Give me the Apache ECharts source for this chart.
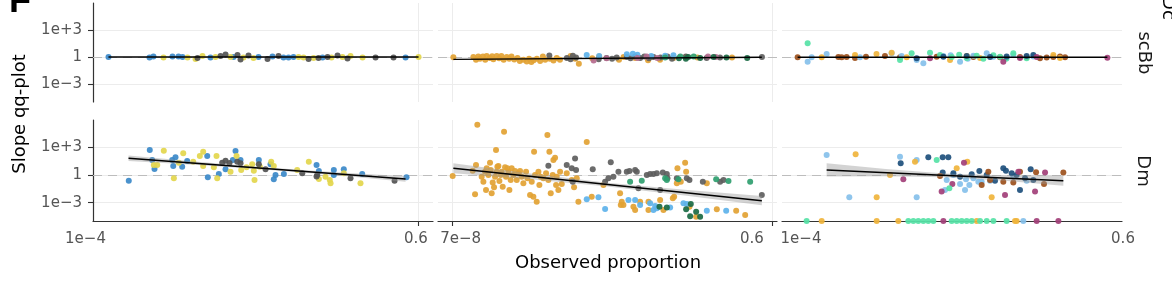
<!DOCTYPE html>
<html><head><meta charset="utf-8">
<script src="https://cdn.jsdelivr.net/npm/echarts@6/dist/echarts.min.js"></script>
<style>html,body{margin:0;padding:0;background:#fff;}#c{width:1172px;height:302px;}</style>
</head><body><div id="c"></div>
<script>
// All values are [log10(observed proportion), log10(slope of qq-plot)]
// ---------- Column 1, row scBb ----------
const c1_scBb_blue = [[-3.82,0],[-3.343,-0.06],[-3.297,0.06],[-3.076,0.06],[-3.006,0.06],[-2.959,0],[-2.634,-0.06],[-2.366,0],[-2.076,0],[-1.913,0.06],[-1.785,-0.06],[-1.727,-0.06],[-1.669,0],[-1.331,-0.06],[-0.366,-0.06]];
const c1_scBb_yellow = [[-3.18,-0.06],[-2.901,-0.06],[-2.808,-0.22],[-2.727,0.11],[-2.576,0],[-2.401,0],[-2.25,-0.06],[-2.134,-0.11],[-1.61,0],[-1.552,-0.06],[-1.436,-0.11],[-1.227,-0.06],[-1.099,0],[-1.006,0.11],[-0.866,-0.06],[-0.215,0]];
const c1_scBb_gray = [[-2.785,-0.11],[-2.517,0.11],[-2.459,0.28],[-2.32,0.22],[-2.285,-0.28],[-2.192,0.17],[-1.971,-0.22],[-1.843,0.11],[-1.494,-0.22],[-1.378,-0.11],[-1.273,0],[-1.157,0.17],[-1.041,-0.17],[-0.715,-0.06],[-0.506,-0.06]];
const c1_scBb_fit = [[-3.82,0],[-0.215,0]];
// ---------- Column 1, row Dm ----------
const c1_Dm_blue = [[-3.584,-0.61],[-3.34,2.73],[-3.312,1.64],[-3.285,0.66],[-3.079,1.64],[-3.067,0.99],[-3.041,1.94],[-2.963,0.92],[-2.905,1.54],[-2.672,2.08],[-2.665,-0.24],[-2.537,0.12],[-2.459,0.63],[-2.374,1.64],[-2.343,2.63],[-2.285,1.64],[-2.072,1.64],[-1.936,1.18],[-1.878,0.01],[-1.898,-0.46],[-1.781,0.12],[-1.401,1.1],[-1.374,0.45],[-1.2,0.56],[-1.2,0.01],[-1.084,0.63],[-0.87,0.12],[-0.355,-0.24]];
const c1_Dm_yellow = [[-3.293,1.1],[-3.253,1.1],[-3.177,2.66],[-3.06,-0.35],[-3.002,1.35],[-2.951,2.37],[-2.835,1.46],[-2.758,2.08],[-2.719,2.55],[-2.719,0.99],[-2.595,0.85],[-2.564,2.08],[-2.556,-0.35],[-2.401,0.37],[-2.331,2.08],[-2.277,0.56],[-2.215,0.85],[-2.149,1.18],[-2.13,0.48],[-2.122,-0.53],[-2.06,0.92],[-1.928,1.46],[-1.898,0.99],[-1.626,0.56],[-1.491,1.46],[-1.374,-0.42],[-1.297,-0.17],[-1.247,-0.53],[-1.238,-0.89],[-1.084,0.2],[-0.89,-0.89]];
const c1_Dm_gray = [[-2.498,1.35],[-2.459,1.57],[-2.413,1.32],[-2.323,1.46],[-2.285,1.29],[-2.072,1.18],[-1.994,0.63],[-1.567,0.2],[-1.393,0.01],[-1.401,-0.15],[-1.006,-0.35],[-0.494,-0.61]];
const c1_Dm_fit = [[-3.587,1.83],[-0.366,-0.42]];
const c1_Dm_band = [[-3.587,1.53,2.13],[-2.782,1.1,1.44],[-1.977,0.585,0.825],[-1.171,-0.028,0.312],[-0.366,-0.72,-0.12]];
// ---------- Column 2, row scBb ----------
const c2_scBb_orange = [[-7.141,-0.04],[-6.707,0],[-6.65,-0.3],[-6.6,0.05],[-6.563,-0.2],[-6.5,0.05],[-6.45,-0.3],[-6.418,0.1],[-6.35,-0.1],[-6.3,0.08],[-6.273,-0.25],[-6.2,0.1],[-6.15,-0.15],[-6.1,0.12],[-6.05,-0.3],[-5.984,0],[-5.93,-0.2],[-5.88,0.05],[-5.82,-0.28],[-5.75,-0.1],[-5.7,-0.45],[-5.62,-0.3],[-5.55,-0.5],[-5.5,-0.2],[-5.45,-0.55],[-5.4,-0.35],[-5.33,-0.2],[-5.26,-0.45],[-5.2,0.05],[-5.15,-0.3],[-5.05,-0.2],[-4.97,-0.4],[-4.9,-0.1],[-4.83,-0.3],[-4.6,0.1],[-4.5,-0.2],[-4.42,-0.75],[-4.13,-0.15],[-3.98,0.05],[-3.55,-0.3],[-3.45,0],[-3.2,-0.1],[-2.92,-0.35],[-2.85,0],[-2.66,-0.3],[-2.37,-0.1],[-2.1,0],[-1.85,-0.05],[-1.1,-0.05]];
const c2_scBb_gray = [[-5.06,0.18],[-4.68,-0.1],[-4.6,-0.25],[-4.55,0.15],[-4.48,-0.05],[-3.99,-0.25],[-3.82,-0.1],[-3.7,-0.2],[-3.6,-0.05],[-3.38,0],[-3.3,-0.15],[-3.2,0.05],[-3.09,-0.1],[-3,0.05],[-2.9,-0.15],[-2.8,0],[-2.65,-0.05],[-2.5,0.05],[-2.4,-0.2],[-2.1,0.05],[-1.65,-0.1],[-1.36,-0.05],[-0.45,0]];
const c2_scBb_sky = [[-4.25,0.22],[-3.98,0.12],[-3.38,0.3],[-3.25,0.35],[-3.15,0.25],[-2.85,0.1],[-2.55,0.15],[-2.37,0.2]];
const c2_scBb_mauve = [[-4.1,-0.4],[-3.82,-0.15],[-3.15,-0.1],[-2.95,0.05],[-2.72,-0.1],[-1.62,0.05],[-1.45,0]];
const c2_scBb_darkgreen = [[-2.25,-0.15],[-2.1,-0.2],[-2.05,0],[-1.79,-0.1],[-1.5,0],[-1.22,-0.05],[-0.77,-0.1]];
const c2_scBb_green = [[-2.55,-0.05],[-2.22,0.05],[-1.93,0.05]];
const c2_scBb_fit = [[-7.141,-0.26],[-0.453,-0.03]];
// ---------- Column 2, row Dm ----------
const c2_Dm_orange = [[-7.156,-0.1],[-6.722,0.48],[-6.65,1.1],[-6.621,5.49],[-6.671,-2.1],[-6.527,-0.17],[-6.49,-0.72],[-6.454,0.37],[-6.433,-1.62],[-6.418,0.74],[-6.382,0.01],[-6.346,1.35],[-6.331,0.56],[-6.31,-1.99],[-6.288,-0.82],[-6.259,-1.33],[-6.237,-0.17],[-6.216,2.73],[-6.201,0.37],[-6.187,0.92],[-6.165,0.99],[-6.143,-0.64],[-6.114,0.01],[-6.093,0.37],[-6.071,-1.26],[-6.042,4.73],[-6.02,0.85],[-5.999,-0.17],[-5.97,0.74],[-5.948,0.37],[-5.926,-1.62],[-5.898,-0.53],[-5.876,0.74],[-5.84,0.01],[-5.803,0.45],[-5.767,-0.53],[-5.731,0.19],[-5.695,0.45],[-5.659,-0.17],[-5.623,-0.9],[-5.565,0.37],[-5.536,-0.35],[-5.478,-2.17],[-5.442,-0.72],[-5.406,-2.35],[-5.391,2.55],[-5.37,0.01],[-5.334,-2.9],[-5.297,0.37],[-5.276,-1.08],[-5.247,-0.17],[-5.189,-0.35],[-5.131,0.19],[-5.102,4.37],[-5.081,-0.53],[-5.059,2.55],[-5.03,-1.99],[-4.987,0.01],[-4.972,1.64],[-4.936,1.9],[-4.914,-1.08],[-4.9,-0.17],[-4.864,-1.62],[-4.827,0.37],[-4.791,-0.97],[-4.683,0.19],[-4.574,-0.53],[-4.524,-1.33],[-4.466,-0.35],[-4.43,-2.9],[-4.249,3.6],[-4.141,-2.35],[-3.887,-1.08],[-3.526,-1.99],[-3.511,-3.26],[-3.49,-2.9],[-3.454,-3.26],[-3.237,-3.44],[-3.2,-3.81],[-3.092,-2.9],[-2.911,-2.9],[-2.911,-3.81],[-2.658,-2.72],[-2.586,-3.81],[-2.383,-2.53],[-2.354,-2.35],[-2.282,0.74],[-2.21,-0.72],[-2.116,1.35],[-2.094,0.37],[-2.022,-3.44],[-1.877,-4.53],[-1.646,-0.9],[-1.429,-3.73],[-1.009,-3.88],[-0.814,-4.35],[-2.296,-0.9]];
const c2_Dm_gray = [[-5.081,1.03],[-4.683,1.1],[-4.574,0.74],[-4.502,1.82],[-4.48,0.56],[-4.553,-0.72],[-4.119,0.63],[-3.851,-0.72],[-3.728,1.39],[-3.779,-0.35],[-3.671,-0.17],[-3.562,0.37],[-3.381,0.37],[-3.323,0.45],[-3.2,0.56],[-3.128,-1.44],[-3.164,0.37],[-2.947,0.01],[-2.875,0.12],[-2.803,0.12],[-2.73,0.19],[-2.658,-1.62],[-2.6,0.27],[-2.513,0.12],[-2.499,-0.35],[-2.296,-0.35],[-2.08,-0.35],[-2.022,-0.53],[-1.732,-0.72],[-1.357,-0.72],[-1.284,-0.53],[-0.453,-2.17]];
const c2_Dm_sky = [[-4.249,-2.64],[-3.996,-2.42],[-3.851,-3.7],[-3.345,-2.72],[-3.2,-2.72],[-3.092,-3.26],[-2.875,-3.08],[-2.803,-3.81],[-2.73,-3.62],[-2.441,-3.52],[-2.152,-3.08],[-2.08,-3.15],[-1.646,-3.88],[-1.226,-3.88],[-2.766,-3.37]];
const c2_Dm_green = [[-3.309,-0.72],[-3.056,-0.61],[-2.549,-0.35],[-2.26,-0.46],[-1.443,-0.46],[-1.176,-0.64],[-0.706,-0.72],[-2.513,-0.53]];
const c2_Dm_darkgreen = [[-2.672,-3.44],[-2.513,-3.52],[-2.094,-3.73],[-1.993,-3.15],[-2.007,-4.47],[-1.791,-4.53],[-1.877,-3.99]];
const c2_Dm_fit = [[-7.141,0.74],[-0.453,-2.79]];
const c2_Dm_band = [[-7.141,0.19,1.29],[-5.469,-0.44,0.16],[-3.797,-1.23,-0.83],[-2.125,-2.21,-1.61],[-0.453,-3.29,-2.29]];
// ---------- Column 3, row scBb ----------
const c3_scBb_brown = [[-4.039,-0.04],[-3.563,0],[-3.524,-0.04],[-3.466,0],[-3.368,-0.1],[-3.24,0.04],[-3.018,0.11],[-2.842,-0.04],[-2.413,0.04],[-1.984,0],[-1.672,-0.04],[-1.439,0],[-1.361,-0.04],[-1.205,-0.15],[-1.127,-0.05],[-1.049,0],[-0.971,0.05],[-0.912,-0.04]];
const c3_scBb_lightblue = [[-3.922,-0.52],[-3.875,-0.04],[-3.7,0.33],[-3.31,-0.04],[-2.94,0.41],[-2.823,0.11],[-2.647,-0.33],[-2.569,-0.7],[-2.335,0.1],[-2.14,-0.52],[-1.984,0.15],[-1.828,0.41],[-1.75,0.04],[-1.595,-0.1],[-1.517,0.22],[-1.283,0.05],[-2.25,0.2],[-2.05,-0.2]];
const c3_scBb_gold = [[-3.758,-0.04],[-3.368,0.22],[-3.117,0.33],[-2.94,0.48],[-2.764,-0.04],[-2.257,-0.33],[-2.062,0.1],[-1.906,-0.1],[-1.049,0.22],[-0.971,-0.1]];
const c3_scBb_mint = [[-3.922,1.52],[-2.842,-0.33],[-2.706,0.41],[-2.491,0.48],[-2.374,0.22],[-2.237,0],[-2.062,-0.1],[-1.945,0.15],[-1.867,-0.2],[-1.75,0.2],[-1.672,0.04],[-1.517,0.41],[-1.361,-0.15],[-2.15,0.25],[-1.6,-0.2]];
const c3_scBb_navy = [[-2.647,-0.15],[-2.335,0.04],[-2.062,0.11],[-1.789,0],[-1.595,0.05],[-1.361,0.1],[-1.283,0.22]];
const c3_scBb_magenta = [[-2.491,-0.15],[-1.634,-0.52],[-1.439,-0.1],[-1.244,0],[-0.417,-0.08]];
const c3_scBb_fit = [[-4.039,-0.02],[-0.417,-0.02]];
// ---------- Column 3, row Dm ----------
const c3_Dm_lightblue = [[-3.7,2.19],[-3.435,-2.42],[-2.842,2],[-2.647,1.64],[-2.647,-2.42],[-2.316,-1.62],[-2.296,-0.53],[-2.14,-0.97],[-2.082,-1.62],[-2.031,-1.08],[-2.07,-0.46],[-1.984,-0.35],[-1.926,-0.72],[-1.887,-0.72],[-1.789,-0.61],[-1.517,-0.17],[-1.361,-0.61],[-2.218,0.01],[-1.4,-5]];
const c3_Dm_gold = [[-3.361,2.26],[-3.115,-2.42],[-2.959,0.01],[-2.667,1.46],[-2.179,0.74],[-2.055,1.46],[-1.77,-2.42],[-3.758,-5],[-3.115,-5],[-2.862,-5],[-1.945,-5],[-1.497,-5],[-1.478,-5]];
const c3_Dm_navy = [[-2.834,1.28],[-2.511,1.93],[-2.343,1.93],[-2.277,1.93],[-2.343,0.27],[-2.218,0.19],[-2.004,0.08],[-1.914,0.45],[-1.828,0.01],[-1.731,-0.61],[-1.634,0.74],[-1.603,0.48],[-1.536,0.19],[-1.478,0.01],[-1.439,-1.62],[-1.38,-0.35],[-1.314,0.63],[-1.283,-0.53],[-2.14,-0.17]];
const c3_Dm_brown = [[-2.374,-0.1],[-1.887,-1.08],[-1.809,0.37],[-1.789,-0.53],[-1.634,-0.72],[-1.517,-0.82],[-1.439,0.37],[-1.251,0.3],[-1.158,-0.97],[-0.932,0.27]];
const c3_Dm_magenta = [[-2.803,-0.46],[-2.355,-1.8],[-2.23,-0.97],[-2.094,1.35],[-1.614,-2.17],[-1.458,0.37],[-1.263,-1.8],[-1.146,0.27],[-2.335,-5],[-1.244,-5],[-0.99,-5]];
const c3_Dm_mint = [[-2.413,1.64],[-2.265,-1.44],[-3.934,-5],[-2.745,-5],[-2.686,-5],[-2.628,-5],[-2.569,-5],[-2.511,-5],[-2.452,-5],[-2.238,-5],[-2.179,-5],[-2.121,-5],[-2.062,-5],[-2.004,-5],[-1.906,-5],[-1.828,-5],[-1.75,-5],[-1.595,-5]];
const c3_Dm_fit = [[-3.7,0.56],[-0.932,-0.61]];
const c3_Dm_band = [[-3.7,-0.16,1.28],[-3.008,-0.13,0.67],[-2.316,-0.23,0.18],[-1.624,-0.62,-0.02],[-0.932,-1.17,-0.05]];

// ---------- axes / labels ----------
const rowLabels = ['scBb', 'Dm'];
const xTickProps = [[1e-4, 0.6], [7e-8, 0.6], [1e-4, 0.6]];
const xTickLabels = [['1e\u22124', '0.6'], ['7e\u22128', '0.6'], ['1e\u22124', '0.6']];
const yTickSlopes = [1e-3, 1, 1e3];
const yTickLabels = ['1e\u22123', '1', '1e+3'];

// ---------- layout / style ----------
const FONT = 'DejaVu Sans';
const colBox = [{left: 93, width: 340}, {left: 438, width: 339}, {left: 782, width: 340}];
const rowBox = [{top: 3, height: 99}, {top: 120, height: 101}];
const xDomain = [[-4, -0.047], [-7.474, -0.124], [-4.222, -0.246]];
const yDomain = [-5, 6];
const xTickDrawn = [[false, true], [true, true], [false, false]];
const xLabelShift = [[-7.5, -2], [8, -20.5], [0, 1]];
const C = {blue:'#3b89c9', yellow:'#e3d64c', gray:'#535353', orange:'#e2a233', gray2:'#5e5e5e', sky:'#5db2ea', green:'#2f9e6f', darkgreen:'#1a6a44', mauve:'#b56b8f', lightblue:'#85c0ea', gold:'#f0b43c', navy:'#1d4f7c', brown:'#9c501c', magenta:'#a23f78', mint:'#56e2a6'};

const grids = [], xAxes = [], yAxes = [], series = [];
const yTickVals = yTickSlopes.map(v => Math.log10(v));
for (let r = 0; r < 2; r++) for (let c = 0; c < 3; c++) {
  const gi = r * 3 + c;
  grids.push({left: colBox[c].left, width: colBox[c].width, top: rowBox[r].top, height: rowBox[r].height, containLabel: false, outerBoundsMode: 'none'});
  const [mn, mx] = xDomain[c];
  const lv = xTickProps[c].map(p => Math.max(mn, Math.min(mx, Math.log10(p))));
  const tv = xTickProps[c].map(p => Math.log10(p)).filter((v, i) => xTickDrawn[c][i]);
  const rich = {};
  xLabelShift[c].forEach((d, i) => {
    rich['l' + i] = {fontFamily: FONT, fontSize: 15, color: '#555', padding: d >= 0 ? [0, 0, 0, 2 * d] : [0, -2 * d, 0, 0]};
  });
  xAxes.push({
    type: 'value', gridIndex: gi, min: mn, max: mx,
    axisLine: {show: r === 1, onZero: false, lineStyle: {color: '#333', width: 1.2}},
    axisTick: {show: r === 1, customValues: tv, length: 5, lineStyle: {color: '#333', width: 1.1}},
    axisLabel: {show: r === 1, customValues: lv, margin: 11, fontFamily: FONT, fontSize: 15, color: '#555',
      formatter: (val) => { let k = 0; lv.forEach((v, i) => { if (Math.abs(v - val) < 1e-6) k = i; }); return '{l' + k + '|' + xTickLabels[c][k] + '}'; },
      rich},
    splitLine: {show: true, lineStyle: {color: '#ececec', width: 1}}
  });
  yAxes.push({
    type: 'value', gridIndex: gi, min: yDomain[0], max: yDomain[1],
    axisLine: {show: c === 0, onZero: false, lineStyle: {color: '#333', width: 1.2}},
    axisTick: {show: c === 0, customValues: yTickVals, length: 5, lineStyle: {color: '#333', width: 1.1}},
    axisLabel: {show: c === 0, customValues: yTickVals, margin: 11, fontFamily: FONT, fontSize: 15, color: '#555',
      formatter: (val) => { let k = 0; yTickVals.forEach((v, i) => { if (Math.abs(v - val) < 1e-6) k = i; }); return yTickLabels[k]; }},
    splitLine: {show: true, lineStyle: {color: '#ececec', width: 1}}
  });
  series.push({type: 'line', xAxisIndex: gi, yAxisIndex: gi, data: [], silent: true,
    markLine: {silent: true, z: 1, symbol: 'none', label: {show: false}, animation: false,
      lineStyle: {color: '#bdbdbd', type: [9, 6], width: 1.1}, data: [{yAxis: 0}]}});
}
function pts(gi, color, data, size) {
  series.push({type: 'scatter', xAxisIndex: gi, yAxisIndex: gi, data, symbolSize: size || 6, silent: true, z: 3,
    itemStyle: {color, opacity: 0.92}});
}
function fit(gi, data) {
  series.push({type: 'line', xAxisIndex: gi, yAxisIndex: gi, data, symbol: 'none', silent: true, z: 6,
    lineStyle: {color: '#000', width: 1.4}});
}
function band(gi, data) {
  series.push({type: 'custom', xAxisIndex: gi, yAxisIndex: gi, data, silent: true, z: 5, clip: true,
    encode: {x: 0, y: [1, 2]},
    renderItem: (params, api) => {
      if (params.dataIndex !== 0) return null;
      const up = data.map(d => api.coord([d[0], d[2]]));
      const lo = data.map(d => api.coord([d[0], d[1]])).reverse();
      return {type: 'polygon', shape: {points: up.concat(lo)}, style: {fill: 'rgba(150,150,150,0.42)'}};
    }});
}
pts(0, C.blue, c1_scBb_blue); pts(0, C.yellow, c1_scBb_yellow); pts(0, C.gray, c1_scBb_gray); fit(0, c1_scBb_fit);
pts(1, C.orange, c2_scBb_orange); pts(1, C.gray2, c2_scBb_gray); pts(1, C.sky, c2_scBb_sky); pts(1, C.mauve, c2_scBb_mauve);
pts(1, C.darkgreen, c2_scBb_darkgreen); pts(1, C.green, c2_scBb_green); fit(1, c2_scBb_fit);
pts(2, C.brown, c3_scBb_brown); pts(2, C.lightblue, c3_scBb_lightblue); pts(2, C.gold, c3_scBb_gold); pts(2, C.mint, c3_scBb_mint);
pts(2, C.navy, c3_scBb_navy); pts(2, C.magenta, c3_scBb_magenta); fit(2, c3_scBb_fit);
pts(3, C.blue, c1_Dm_blue); pts(3, C.yellow, c1_Dm_yellow); pts(3, C.gray, c1_Dm_gray); band(3, c1_Dm_band); fit(3, c1_Dm_fit);
pts(4, C.orange, c2_Dm_orange); pts(4, C.gray2, c2_Dm_gray); pts(4, C.sky, c2_Dm_sky); pts(4, C.green, c2_Dm_green);
pts(4, C.darkgreen, c2_Dm_darkgreen); band(4, c2_Dm_band); fit(4, c2_Dm_fit);
pts(5, C.lightblue, c3_Dm_lightblue); pts(5, C.gold, c3_Dm_gold); pts(5, C.navy, c3_Dm_navy); pts(5, C.brown, c3_Dm_brown);
pts(5, C.magenta, c3_Dm_magenta); pts(5, C.mint, c3_Dm_mint); band(5, c3_Dm_band); fit(5, c3_Dm_fit);

const txt = (text, x, y, size, rot, extra) => Object.assign({type: 'text', x, y, rotation: rot || 0, silent: true,
  style: {text, fontFamily: FONT, fontSize: size, fill: '#000', align: 'center', verticalAlign: 'middle', textAlign: 'center', textVerticalAlign: 'middle'}}, extra || {});
const graphic = [
  txt('Slope qq\u2212plot'.replace('\u2212', '-'), 20, 114, 18, Math.PI / 2),
  txt('Observed proportion', 608, 263, 18, 0),
  txt(rowLabels[0], 1144, 53, 18, -Math.PI / 2, {style: {text: rowLabels[0], fontFamily: FONT, fontSize: 18, fill: '#1a1a1a', align: 'center', verticalAlign: 'middle'}}),
  txt(rowLabels[1], 1143, 171, 18, -Math.PI / 2, {style: {text: rowLabels[1], fontFamily: FONT, fontSize: 18, fill: '#1a1a1a', align: 'center', verticalAlign: 'middle'}}),
  txt('Dc', 1168, 8, 18, -Math.PI / 2),
  {type: 'text', x: 9, y: 2, silent: true, style: {text: 'F', fontFamily: 'Liberation Sans', fontWeight: 'bold', fontSize: 36, fill: '#000', align: 'left', verticalAlign: 'middle'}}
];

const chart = echarts.init(document.getElementById('c'), null, {renderer: 'canvas'});
chart.setOption({animation: false, backgroundColor: '#fff', textStyle: {fontFamily: FONT},
  grid: grids, xAxis: xAxes, yAxis: yAxes, series, graphic});
</script></body></html>
